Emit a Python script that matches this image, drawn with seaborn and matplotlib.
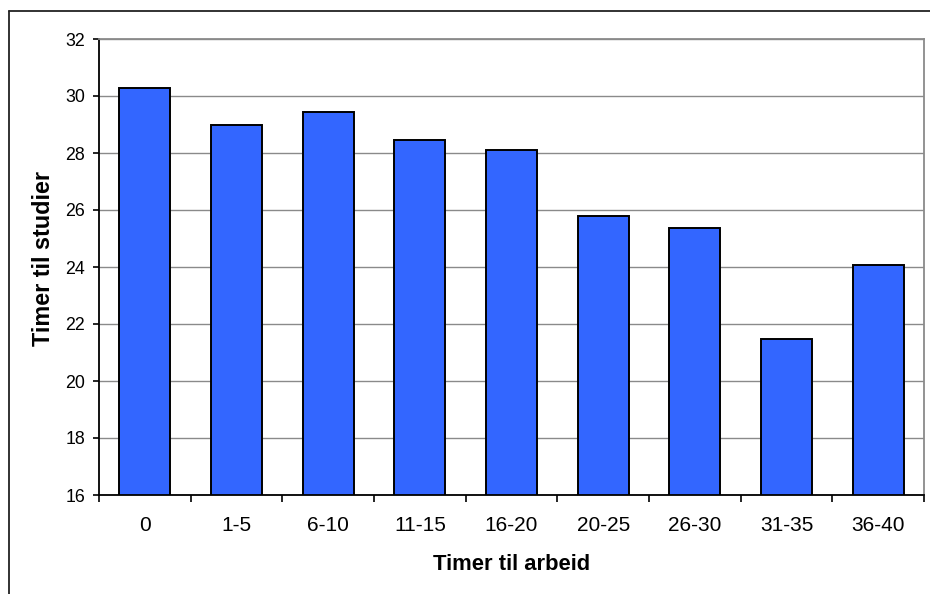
import matplotlib
matplotlib.use("Agg")
import matplotlib.pyplot as plt
import seaborn as sns
import pandas as pd
from matplotlib.lines import Line2D

categories = ["0", "1-5", "6-10", "11-15", "16-20", "20-25", "26-30", "31-35", "36-40"]
values = [30.29, 28.97, 29.43, 28.46, 28.09, 25.79, 25.37, 21.48, 24.06]
y_ticks = [16, 18, 20, 22, 24, 26, 28, 30, 32]
x_label = "Timer til arbeid"
y_label = "Timer til studier"

sns.set_theme(style="white")
plt.rcParams["font.family"] = ["Liberation Sans", "DejaVu Sans"]

df = pd.DataFrame({"cat": categories, "val": values})

W, H = 930, 594
fig = plt.figure(figsize=(W / 100, H / 100), dpi=100)
fig.patch.set_facecolor("white")
ax = fig.add_axes([99 / W, 1 - 495 / H, (924 - 99) / W, (495 - 39) / H])

sns.barplot(data=df, x="cat", y="val", order=categories, color="#3366FF",
            saturation=1, edgecolor="black", linewidth=1.4, width=0.556, ax=ax,
            zorder=3)

ax.set_ylim(16, 32)
ax.set_xlim(-0.5, len(categories) - 0.5)
ax.set_yticks(y_ticks)
ax.set_yticklabels([str(t) for t in y_ticks], fontsize=12.8, color="black")
ax.set_xticks(range(len(categories)))
ax.set_xticklabels(categories, fontsize=15, color="black")
ax.set_xticks([i - 0.5 for i in range(len(categories) + 1)], minor=True)
ax.tick_params(axis="x", which="major", length=0, pad=15)
ax.tick_params(axis="x", which="minor", length=5, width=1.2, color="black", direction="out", bottom=True)
ax.tick_params(axis="y", which="major", length=4, width=1.2, color="black", direction="out", left=True, pad=6)

ax.yaxis.grid(True, color="#8a8a8a", linewidth=1.0, zorder=0)
ax.xaxis.grid(False)
ax.set_axisbelow(True)

for s in ["left", "bottom"]:
    ax.spines[s].set_color("black")
    ax.spines[s].set_linewidth(1.3)
for s in ["top", "right"]:
    ax.spines[s].set_color("#8a8a8a")
    ax.spines[s].set_linewidth(1.3)
for s in ax.spines.values():
    s.set_zorder(5)

ax.set_xlabel("")
ax.set_ylabel("")
fig.text(511.5 / W, 1 - 564 / H, x_label, fontsize=15.8, fontweight="bold",
         ha="center", va="center", color="black")
fig.text(44 / W, 1 - 258 / H, y_label, fontsize=16.8, fontweight="bold",
         ha="center", va="center", rotation=90, color="black")

# outer chart frame (left and top only, rest cropped)
fig.add_artist(Line2D([8.5 / W, 8.5 / W], [0, 1 - 10.5 / H], transform=fig.transFigure,
                      color="#222222", linewidth=1.3))
fig.add_artist(Line2D([8.5 / W, 1], [1 - 10.5 / H, 1 - 10.5 / H], transform=fig.transFigure,
                      color="#222222", linewidth=1.3))

fig.savefig("out.png", dpi=100, facecolor="white")
